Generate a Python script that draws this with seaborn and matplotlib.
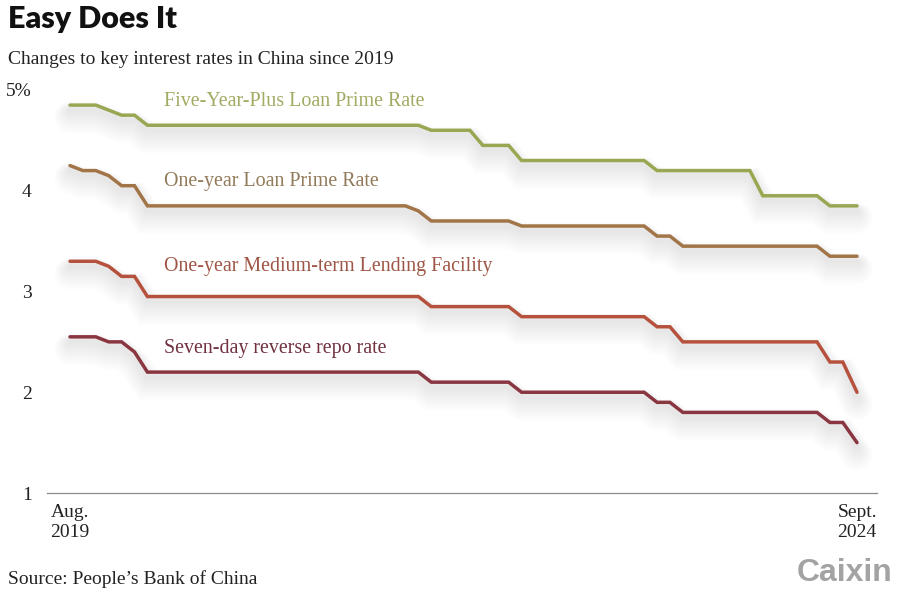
import matplotlib
matplotlib.use("Agg")
import matplotlib.pyplot as plt
import matplotlib.patheffects as pe
import pandas as pd
import seaborn as sns

# months since Aug. 2019 at each turning point
lpr5_months = [0, 2, 3, 4, 5, 6, 27, 28, 31, 32, 34, 35, 44.5, 45.5, 52.7, 53.7, 57.9, 58.9, 61]
lpr5_rates = [4.85, 4.85, 4.80, 4.75, 4.75, 4.65, 4.65, 4.60, 4.60, 4.45, 4.45, 4.30, 4.30, 4.20, 4.20, 3.95, 3.95, 3.85, 3.85]

lpr1_months = [0, 1, 2, 3, 4, 5, 6, 26, 27, 28, 34, 35, 44.5, 45.5, 46.5, 47.5, 57.9, 58.9, 61]
lpr1_rates = [4.25, 4.20, 4.20, 4.15, 4.05, 4.05, 3.85, 3.85, 3.80, 3.70, 3.70, 3.65, 3.65, 3.55, 3.55, 3.45, 3.45, 3.35, 3.35]

mlf_months = [0, 2, 3, 4, 5, 6, 27, 28, 34, 35, 44.5, 45.5, 46.5, 47.5, 57.9, 58.9, 59.9, 61]
mlf_rates = [3.30, 3.30, 3.25, 3.15, 3.15, 2.95, 2.95, 2.85, 2.85, 2.75, 2.75, 2.65, 2.65, 2.50, 2.50, 2.30, 2.30, 2.00]

repo_months = [0, 2, 3, 4, 5, 6, 27, 28, 34, 35, 44.5, 45.5, 46.5, 47.5, 57.9, 58.9, 59.9, 61]
repo_rates = [2.55, 2.55, 2.50, 2.50, 2.40, 2.20, 2.20, 2.10, 2.10, 2.00, 2.00, 1.90, 1.90, 1.80, 1.80, 1.70, 1.70, 1.50]

series_names = ["Five-Year-Plus Loan Prime Rate", "One-year Loan Prime Rate",
                "One-year Medium-term Lending Facility", "Seven-day reverse repo rate"]
line_colors = ["#9aa752", "#a27548", "#b5513c", "#8a3640"]
text_colors = ["#a3aa62", "#927b5a", "#9e5646", "#71323f"]

y_ticks = [1, 2, 3, 4, 5]
y_labels = ["1", "2", "3", "4", "5%"]
x_ticks = [0, 61]
x_labels = ["Aug.\n2019", "Sept.\n2024"]

sns.set_style("white")
plt.rcParams["font.family"] = ["Liberation Serif", "DejaVu Serif"]

fig = plt.figure(figsize=(9, 5.99), dpi=100)
ax = fig.add_axes([47 / 900, 106 / 599, 830 / 900, 413 / 599])

frames = []
for name, m, r in zip(series_names,
                      [lpr5_months, lpr1_months, mlf_months, repo_months],
                      [lpr5_rates, lpr1_rates, mlf_rates, repo_rates]):
    frames.append(pd.DataFrame({"month": m, "rate": r, "series": name}))
df = pd.concat(frames, ignore_index=True)

sns.lineplot(data=df, x="month", y="rate", hue="series", hue_order=series_names,
             palette=line_colors, estimator=None, linewidth=2.5, legend=False, ax=ax)

# soft blurred drop shadow under each line (stacked faint strokes)
shadow = [pe.SimpleLineShadow(offset=(0, -3.5 - k * 0.5), shadow_color="black",
                              alpha=0.0065, linewidth=3 + k * 1.8) for k in range(12)]
for line in ax.get_lines():
    line.set_path_effects(shadow + [pe.Normal()])
    line.set_solid_capstyle("round")
    line.set_solid_joinstyle("miter")

# series labels
label_y = [4.885, 4.09, 3.25, 2.435]
for name, c, yy in zip(series_names, text_colors, label_y):
    ax.text(7.29, yy, name, color=c, fontsize=14.4, va="center", ha="left")

ax.set_xlim(-(70 - 47) / 12.902, 61 + 20 / 12.902)
ax.set_ylim(1, 5 + 10 / 100.75)
ax.set_xticks(x_ticks)
ax.set_xticklabels(x_labels, fontsize=14, color="#222222", linespacing=1.2)
ax.set_yticks(y_ticks)
ax.set_yticklabels(y_labels, fontsize=14, color="#222222")
ax.tick_params(axis="x", direction="in", length=7, width=0.8, color="#777777", pad=8)
ax.tick_params(axis="y", direction="out", length=7, width=0.8, color="#bbbbbb", pad=4)
ax.set_xlabel("")
ax.set_ylabel("")
for s in ["top", "right", "left"]:
    ax.spines[s].set_visible(False)
ax.spines["bottom"].set_color("#8a8a8a")
ax.spines["bottom"].set_linewidth(0.9)

fig.text(8 / 900, 1 - 5 / 599, "Easy Does It", fontsize=22, fontweight="heavy",
         family="Lato", color="#111111", va="top", ha="left")
fig.text(8 / 900, 1 - 59 / 599, "Changes to key interest rates in China since 2019",
         fontsize=14, color="#222222", va="center", ha="left")
fig.text(8 / 900, 1 - 579 / 599, "Source: People\u2019s Bank of China",
         fontsize=14, color="#222222", va="center", ha="left")
fig.text(893 / 900, 1 - 573 / 599, "Caixin", fontsize=23, fontweight="bold",
         family="Liberation Sans", color="#a3a3a3", va="center", ha="right")

fig.savefig("out.png", dpi=100)
